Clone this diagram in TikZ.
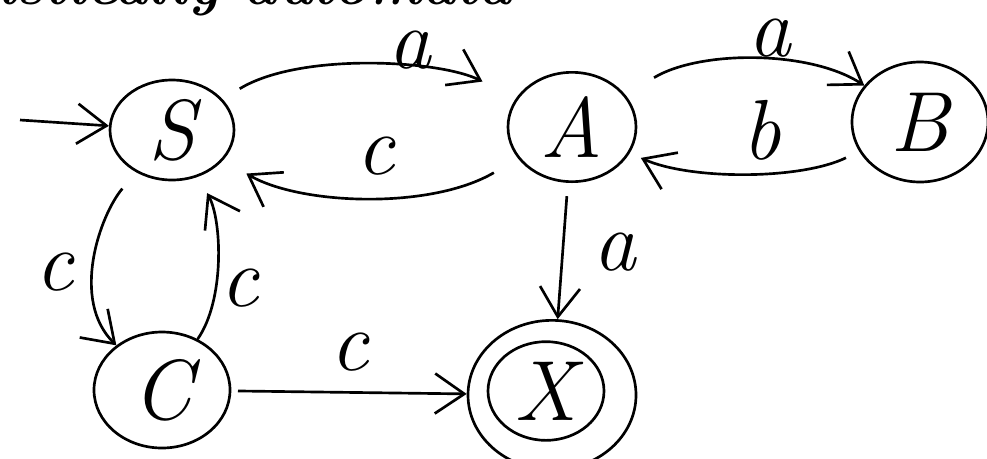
\documentclass[tikz,border=0pt]{standalone}
\usetikzlibrary{arrows.meta,shapes.geometric}
\begin{document}
\begin{tikzpicture}[x=0.75pt,y=-0.75pt,
  st/.style={draw, ellipse, line width=2pt, inner sep=0pt,
    font=\fontsize{64}{64}\selectfont\itshape},
  edge/.style={line width=2pt, -{Straight Barb[length=22pt,width=30pt]}},
  lbl/.style={inner sep=0pt, font=\fontsize{64}{64}\selectfont\itshape},
  title/.style={inner sep=0pt, font=\fontsize{43}{43}\selectfont\bfseries\itshape}]
\useasboundingbox (0,0) rectangle (987,458);

% cut-off title
\node[title, anchor=base east] (ttl) at (513,4) {nistically automata};

% states
\node[st, minimum width=93pt, minimum height=75pt] (S) at (172,130) {S};
\node[st, minimum width=96pt, minimum height=82pt] (A) at (572,127) {A};
\node[st, minimum width=102pt, minimum height=90pt] (B) at (920,122) {B};
\node[st, minimum width=102pt, minimum height=87pt] (C) at (162,390) {C};
\node[st, minimum width=87pt, minimum height=74pt] (X) at (546,391) {X};
\node[st, minimum width=126pt, minimum height=112pt] (Xo) at (552,395) {};

% initial arrow
\coordinate (init) at (20,120);
\draw[edge] (init) -- (S);

% S -> A
\draw[edge, shorten <=15pt, shorten >=28pt] (S) .. controls (300,52) and (440,60) .. (A);
\node[lbl] (la1) at (410,50) {a};

% A -> S
\draw[edge, shorten <=21pt, shorten >=20pt] (A) .. controls (430,210) and (300,205) .. (S);
\node[lbl] (lc1) at (376,156) {c};

% A -> B
\draw[edge, shorten <=25pt] (A) .. controls (700,50) and (810,50) .. (B);
\node[lbl] (la2) at (770,38) {a};

% B -> A
\draw[edge, shorten <=11pt, shorten >=9pt] (B) .. controls (800,180) and (690,180) .. (A);
\node[lbl] (lb) at (762,130) {b};

% A -> X
\draw[edge, shorten <=10pt] (A) -- (Xo);
\node[lbl] (la3) at (615,252) {a};

% S -> C
\draw[edge, shorten <=16pt] (S) .. controls (100,215) and (70,300) .. (C);
\node[lbl] (lc2) at (55,272) {c};

% C -> S
\draw[edge, shorten >=14pt] (C) .. controls (225,300) and (222,220) .. (S);
\node[lbl] (lc3) at (240,288) {c};

% C -> X
\draw[edge, shorten <=5pt] (C) -- (Xo);
\node[lbl] (lc4) at (350,352) {c};
\end{tikzpicture}
\end{document}
